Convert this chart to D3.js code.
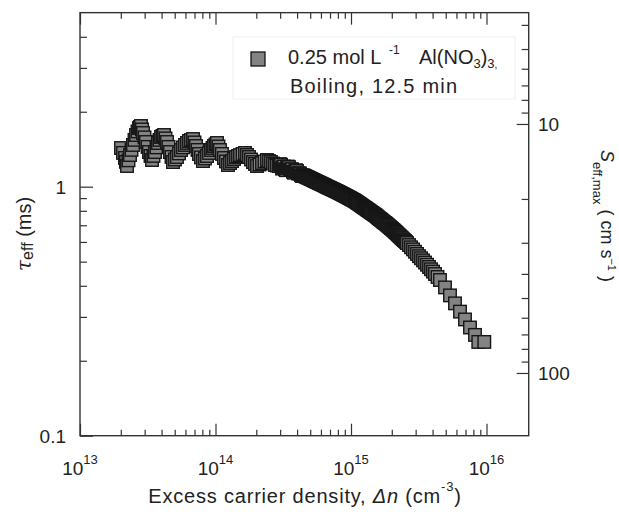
<!DOCTYPE html>
<html><head><meta charset="utf-8">
<script src="https://cdn.jsdelivr.net/npm/d3@7"></script>
<style>
body{margin:0;background:#fff}
svg text{font-family:"Liberation Sans",Arial,Helvetica,sans-serif;fill:#222}
</style>
</head><body>
<svg id="chart" width="619" height="514"></svg>
<script>
// Excess carrier density (cm^-3)
const dnValues = [
  2.007e13,2.148e13,2.223e13,2.339e13,2.461e13,2.590e13,2.725e13,2.820e13,2.917e13,3.070e13,
  3.230e13,3.400e13,3.577e13,3.764e13,3.962e13,4.169e13,4.386e13,4.616e13,4.857e13,5.198e13,
  5.565e13,5.956e13,6.375e13,6.823e13,7.180e13,7.554e13,8.086e13,8.656e13,9.265e13,9.748e13,
  1.026e14,1.079e14,1.155e14,1.237e14,1.324e14,1.417e14,1.517e14,1.651e14,1.767e14,1.891e14,
  2.025e14,2.204e14,2.399e14,2.568e14,2.749e14,
  2.076e13,2.185e13,2.280e13,2.399e13,2.525e13,2.657e13,2.772e13,2.868e13,2.993e13,3.149e13,
  3.314e13,3.487e13,3.669e13,3.862e13,4.064e13,4.276e13,4.500e13,4.735e13,5.025e13,5.378e13,
  5.757e13,6.162e13,6.595e13,6.999e13,7.364e13,7.815e13,8.366e13,8.955e13,9.503e13,1.000e14,
  1.052e14,1.116e14,1.195e14,1.280e14,1.370e14,1.466e14,1.583e14,1.708e14,1.828e14,1.957e14,
  2.113e14,2.299e14,2.482e14,2.657e14,2.844e14,
  2.942e14,3.149e14,3.371e14,3.608e14,3.862e14,4.133e14,4.424e14,4.735e14,5.068e14,5.424e14,
  5.805e14,6.215e14,6.652e14,7.119e14,7.620e14,8.155e14,8.730e14,9.344e14,1.000e15,1.070e15,
  1.146e15,1.226e15,1.312e15,1.405e15,1.503e15,1.609e15,1.723e15,1.844e15,1.974e15,2.112e15,
  2.261e15,2.420e15,2.590e15,2.773e15,2.968e15,3.177e15,3.400e15,3.639e15,3.895e15,4.169e15,
  4.538e15,4.940e15,5.378e15,5.854e15,6.375e15,6.939e15,7.554e15,8.224e15,8.698e15,9.634e15,
  3.044e14,3.258e14,3.488e14,3.733e14,3.996e14,4.276e14,4.577e14,4.899e14,5.243e14,5.612e14,
  6.006e14,6.430e14,6.882e14,7.365e14,7.884e14,8.437e14,9.032e14,9.667e14,1.035e15,1.107e15,
  1.186e15,1.268e15,1.357e15,1.454e15,1.555e15,1.665e15,1.783e15,1.908e15,2.042e15,2.185e15,
  2.339e15,2.504e15,2.680e15,2.869e15,3.071e15,3.287e15,3.518e15,3.765e15,4.030e15,4.350e15,
  2.992e14,3.096e14,3.203e14,3.314e14,3.429e14,3.548e14,3.670e14,3.797e14,3.928e14,4.064e14,
  4.204e14,4.349e14,4.500e14,4.655e14,4.816e14,4.983e14,5.155e14,5.333e14,5.517e14,5.708e14,
  5.904e14,6.109e14,6.321e14,6.540e14,6.766e14,7.000e14,7.241e14,7.491e14,7.751e14,8.019e14,
  8.295e14,8.582e14,8.880e14,9.187e14,9.504e14,9.833e14,1.017e15,1.053e15,1.088e15,1.126e15,
  1.166e15,1.206e15,1.247e15,1.290e15,1.334e15,1.380e15,1.429e15,1.479e15,1.529e15,1.582e15,
  1.637e15,1.694e15,1.753e15,1.814e15,1.876e15,1.941e15,2.008e15,2.077e15,2.148e15,2.222e15,
  2.300e15,2.379e15,2.461e15,2.547e15
];
// Effective lifetime (ms)
const tauValues = [
  1.430,1.304,1.211,1.340,1.471,1.613,1.721,1.753,1.643,1.512,
  1.378,1.280,1.378,1.498,1.584,1.613,1.512,1.378,1.256,1.316,
  1.404,1.471,1.526,1.554,1.457,1.353,1.268,1.328,1.404,1.457,
  1.498,1.404,1.304,1.222,1.268,1.316,1.340,1.366,1.316,1.256,
  1.211,1.245,1.280,1.256,1.222,
  1.367,1.258,1.276,1.406,1.542,1.667,1.737,1.698,1.578,1.445,
  1.329,1.329,1.438,1.541,1.599,1.563,1.445,1.317,1.286,1.360,
  1.438,1.499,1.540,1.506,1.405,1.311,1.298,1.366,1.431,1.478,
  1.451,1.354,1.263,1.245,1.292,1.328,1.353,1.341,1.286,1.234,
  1.228,1.263,1.268,1.239,1.216,
  1.210,1.198,1.187,1.172,1.152,1.132,1.112,1.092,1.073,1.054,
  1.036,1.018,0.999,0.982,0.965,0.948,0.930,0.912,0.894,0.876,
  0.854,0.832,0.811,0.790,0.770,0.747,0.725,0.704,0.682,0.660,
  0.637,0.615,0.594,0.571,0.548,0.526,0.506,0.486,0.466,0.446,
  0.422,0.394,0.366,0.340,0.315,0.293,0.272,0.254,0.238,0.238,
  1.225,1.175,1.198,1.148,1.156,1.112,1.102,1.083,1.064,1.045,
  1.027,1.009,0.991,0.974,0.957,0.939,0.921,0.903,0.885,0.865,
  0.843,0.822,0.801,0.780,0.759,0.736,0.715,0.693,0.671,0.649,
  0.626,0.605,0.583,0.560,0.537,0.516,0.496,0.476,0.456,0.434,
  1.232,1.182,1.205,1.165,1.205,1.170,1.175,1.138,1.165,1.130,
  1.130,1.104,1.107,1.097,1.088,1.078,1.069,1.059,1.050,1.041,
  1.032,1.023,1.014,1.004,0.995,0.987,0.978,0.970,0.961,0.953,
  0.944,0.935,0.926,0.917,0.908,0.899,0.890,0.881,0.871,0.860,
  0.849,0.838,0.827,0.817,0.806,0.796,0.785,0.775,0.765,0.753,
  0.742,0.731,0.720,0.710,0.699,0.688,0.677,0.666,0.655,0.643,
  0.632,0.621,0.610,0.600
];
const xMajorTicks = [1e13,1e14,1e15,1e16];
const xExponents = ["13","14","15","16"];
const xMinorMultipliers = [2,3,4,5,6,7,8,9];
const yMajorTicks = [0.1,1];
const yTickLabels = ["0.1","1"];
const yMinorTicks = [0.2,0.3,0.4,0.5,0.6,0.7,0.8,0.9,2,3,4];
const sMajorTicks = [10,100];
const sTickLabels = ["10","100"];
const sMinorTicks = [4,5,6,7,8,9,20,30,40,50,60,70,80,90];
const sFactor = 17.86; // S_eff,max = sFactor / tau

const L = 80, R = 528.7, B = 435.7, T = B - 249*Math.log10(50);
const svg = d3.select("#chart");

const x = d3.scaleLog().domain([1e13, Math.pow(10, 13 + (R-L)/135.5)]).range([L,R]);
const y = d3.scaleLog().domain([0.1,5]).range([B,T]);
const yS = d3.scaleLog().domain([sFactor/0.1, sFactor/5]).range([B,T]);

const xMinor = [];
xMajorTicks.slice(0,3).forEach(d => xMinorMultipliers.forEach(m => xMinor.push(d*m)));

function styleAxis(g){
  g.select(".domain").remove();
  g.selectAll("line").attr("stroke","#333").attr("stroke-width",1.2);
  g.selectAll("text").remove();
}
svg.append("g").attr("transform",`translate(0,${B})`).call(d3.axisBottom(x).tickValues(xMinor).tickSizeInner(-6).tickSizeOuter(0)).call(styleAxis);
svg.append("g").attr("transform",`translate(0,${B})`).call(d3.axisBottom(x).tickValues(xMajorTicks).tickSizeInner(-12).tickSizeOuter(0)).call(styleAxis);
svg.append("g").attr("transform",`translate(0,${T})`).call(d3.axisTop(x).tickValues(xMinor).tickSizeInner(-6).tickSizeOuter(0)).call(styleAxis);
svg.append("g").attr("transform",`translate(0,${T})`).call(d3.axisTop(x).tickValues(xMajorTicks).tickSizeInner(-12).tickSizeOuter(0)).call(styleAxis);
svg.append("g").attr("transform",`translate(${L},0)`).call(d3.axisLeft(y).tickValues(yMinorTicks).tickSizeInner(-7).tickSizeOuter(0)).call(styleAxis);
svg.append("g").attr("transform",`translate(${L},0)`).call(d3.axisLeft(y).tickValues(yMajorTicks).tickSizeInner(-13).tickSizeOuter(0)).call(styleAxis);
svg.append("g").attr("transform",`translate(${R},0)`).call(d3.axisRight(yS).tickValues(sMinorTicks).tickSizeInner(-7).tickSizeOuter(0)).call(styleAxis);
svg.append("g").attr("transform",`translate(${R},0)`).call(d3.axisRight(yS).tickValues(sMajorTicks).tickSizeInner(-12).tickSizeOuter(0)).call(styleAxis);

svg.append("rect").attr("x",L).attr("y",T).attr("width",R-L).attr("height",B-T)
  .attr("fill","none").attr("stroke","#333").attr("stroke-width",1.4);

xMajorTicks.forEach((v,i) => {
  const t = svg.append("text").attr("x", x(v)).attr("y", 475).attr("text-anchor","middle").style("font-size","19px");
  t.append("tspan").text("10");
  t.append("tspan").attr("dy",-11).style("font-size","13px").text(xExponents[i]);
});
yMajorTicks.forEach((v,i) => {
  svg.append("text").attr("x",66).attr("y",y(v)).attr("dy","0.36em").attr("text-anchor","end").style("font-size","19px").text(yTickLabels[i]);
});
sMajorTicks.forEach((v,i) => {
  svg.append("text").attr("x",538).attr("y",yS(v)).attr("dy","0.36em").attr("text-anchor","start").style("font-size","19px").text(sTickLabels[i]);
});

// data (drawn in increasing carrier density)
const data = dnValues.map((d,i) => ({dn:d, tau:tauValues[i]})).sort((a,b) => a.dn - b.dn);
const ms = 12.5;
svg.append("g").selectAll("rect").data(data).join("rect")
  .attr("x", d => x(d.dn) - ms/2).attr("y", d => y(d.tau) - ms/2)
  .attr("width", ms).attr("height", ms)
  .attr("fill","#838383").attr("stroke","#151515").attr("stroke-width",1.4);

// legend
svg.append("rect").attr("x",233).attr("y",37).attr("width",282).attr("height",62).attr("fill","#fff").attr("stroke","#f0f0f0");
svg.append("rect").attr("x",251).attr("y",52).attr("width",14).attr("height",14).attr("fill","#838383").attr("stroke","#151515").attr("stroke-width",1.3);
svg.append("text").attr("x",288).attr("y",64).style("font-size","20px").text("0.25 mol L");
svg.append("text").attr("x",389).attr("y",54).style("font-size","12px").text("-1");
const al = svg.append("text").attr("x",419).attr("y",64).style("font-size","20px");
al.append("tspan").text("Al(NO");
al.append("tspan").attr("dy",4).style("font-size","13px").text("3");
al.append("tspan").attr("dy",-4).text(")");
al.append("tspan").attr("dy",4).style("font-size","13px").text("3");
al.append("tspan").style("font-size","10px").text(",");
svg.append("text").attr("x",290).attr("y",93).style("font-size","20px").style("letter-spacing","1.2px").text("Boiling, 12.5 min");

const xt = svg.append("text").attr("x",305).attr("y",503).attr("text-anchor","middle").style("font-size","20px").style("letter-spacing","0.8px");
xt.append("tspan").text("Excess carrier density, ");
xt.append("tspan").style("font-style","italic").text("Δn");
xt.append("tspan").text(" (cm");
xt.append("tspan").attr("dy",-12).style("font-size","13px").text("-3");
xt.append("tspan").attr("dy",12).text(")");

const yt = svg.append("text").attr("transform","translate(31,271) rotate(-90)").attr("text-anchor","start").style("font-size","20px");
yt.append("tspan").style("font-style","italic").style("font-family","'DejaVu Serif',serif").text("τ");
yt.append("tspan").attr("dy",2).style("font-size","16px").text("eff");
yt.append("tspan").attr("dy",-2).text(" (ms)");

const rt = svg.append("text").attr("transform","translate(601,150) rotate(90)").attr("text-anchor","start").style("font-size","18px");
rt.append("tspan").style("font-style","italic").text("S");
rt.append("tspan").attr("dy",8).style("font-size","13px").text("eff,max");
rt.append("tspan").attr("dy",-8).text(" ( cm  s");
rt.append("tspan").attr("dy",-7).style("font-size","11px").text("−1");
rt.append("tspan").attr("dy",7).text(" )");
</script>
</body></html>
